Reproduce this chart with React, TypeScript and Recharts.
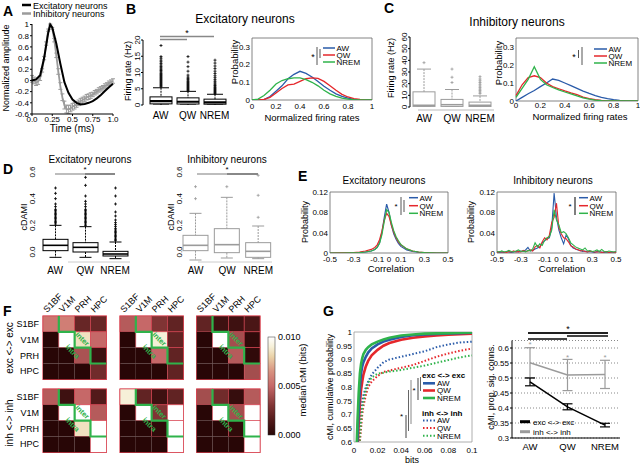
import React from "react";
import {
  LineChart,
  Line,
  XAxis,
  YAxis,
  BarChart,
  Bar,
  ScatterChart,
  Scatter,
  ErrorBar,
  ReferenceArea,
  CartesianGrid,
} from "recharts";

const W = 640;
const H = 464;
const FONT = '"Liberation Sans", Arial, Helvetica, sans-serif';
const BLUE = "#2a5ba9";
const RED = "#e5272b";
const GREEN = "#2fb34b";
const GRAY = "#9b9b9b";
const FRAME = "#666";
const CELL_RED = "#d8404e";

const states = ["AW", "QW", "NREM"];
const stateColors = [BLUE, RED, GREEN];
const areas = ["S1BF", "V1M", "PRH", "HPC"];

// A: mean spike waveforms
const aExcT = [0, 0.05, 0.1, 0.15, 0.2, 0.225, 0.25, 0.3, 0.35, 0.4, 0.45, 0.5, 0.55, 0.6, 0.65, 0.7, 0.75, 0.8, 0.85, 0.9, 0.95, 1];
const aExcV = [0, 0.02, 0.09, 0.4, 0.85, 1, 0.95, 0.66, 0.3, -0.03, -0.22, -0.34, -0.4, -0.43, -0.42, -0.4, -0.37, -0.32, -0.26, -0.19, -0.12, -0.06];
const aInhT = [0, 0.025, 0.05, 0.075, 0.1, 0.125, 0.15, 0.175, 0.2, 0.225, 0.25, 0.275, 0.3, 0.325, 0.35, 0.375, 0.4, 0.425, 0.45, 0.475, 0.5, 0.525, 0.55, 0.575, 0.6, 0.625, 0.65, 0.675, 0.7, 0.725, 0.75, 0.775, 0.8, 0.825, 0.85, 0.875, 0.9, 0.925, 0.95, 0.975, 1];
const aInhV = [0.03, 0, -0.04, -0.02, 0.04, 0.18, 0.4, 0.66, 0.9, 1, 0.93, 0.72, 0.45, 0.16, -0.1, -0.3, -0.44, -0.51, -0.52, -0.5, -0.47, -0.45, -0.43, -0.4, -0.37, -0.35, -0.33, -0.3, -0.29, -0.27, -0.25, -0.22, -0.2, -0.17, -0.15, -0.13, -0.1, -0.08, -0.05, -0.03, -0.01];
const aInhE = [0.06, 0.06, 0.05, 0.05, 0.04, 0.03, 0.03, 0.03, 0.02, 0.01, 0.02, 0.03, 0.04, 0.05, 0.06, 0.06, 0.07, 0.07, 0.07, 0.06, 0.06, 0.06, 0.05, 0.05, 0.05, 0.05, 0.05, 0.05, 0.05, 0.05, 0.04, 0.04, 0.04, 0.04, 0.04, 0.04, 0.04, 0.04, 0.04, 0.04, 0.04];
const aTicksX = [0, 0.25, 0.5, 0.75, 1];
const aTicksY = [-0.6, -0.4, -0.2, 0, 0.2, 0.4, 0.6, 0.8, 1];

// B, C: firing-rate boxes and normalized-rate distributions
const bQ1 = [0.35, 0.3, 0.25];
const bMed = [1.2, 1.0, 0.8];
const bQ3 = [2.5, 2.2, 1.8];
const bLo = [0, 0, 0];
const bHi = [5.3, 4.2, 3.3];
const bOutAW = [5.6, 5.9, 6.2, 6.5, 6.8, 7.1, 7.4, 7.7, 8.0, 8.3, 8.6, 8.9, 9.2, 9.5, 9.8, 10.2, 10.6, 11.0, 11.4, 11.8, 12.3, 12.8, 13.3, 13.8, 14.4, 14.9, 18.3];
const bOutQW = [4.4, 4.7, 5.0, 5.3, 5.6, 5.9, 6.2, 6.5, 6.8, 7.1, 7.4, 7.8, 8.2, 8.6, 9.2, 10.4, 11.8, 13.2, 14.9];
const bOutNREM = [3.5, 3.8, 4.1, 4.4, 4.7, 5.0, 5.3, 5.6, 6.0, 6.4, 6.8, 7.3, 7.8, 8.4, 9.0, 9.7, 10.4, 11.2, 12.0, 12.9, 13.8];

const cQ1 = [0.5, 0.5, 0.4];
const cMed = [1.5, 2, 1.5];
const cQ3 = [13, 6.5, 4.2];
const cLo = [0, 0, 0];
const cHi = [32.5, 15, 9.5];
const cOutAW = [38, 62];
const cOutQW = [21, 25.5, 32.5];
const cOutNREM = [11.5, 12.8, 14, 15.3, 16.6, 18, 19.5, 21, 22.5, 24, 26];

const distX = [0, 0.05, 0.1, 0.15, 0.2, 0.25, 0.3, 0.35, 0.4, 0.45, 0.5, 0.55, 0.6, 0.65, 0.7, 0.75, 0.8, 0.85, 0.9, 0.95, 1];
const bDistAW = [0, 0, 0.002, 0.02, 0.05, 0.08, 0.12, 0.145, 0.162, 0.15, 0.13, 0.105, 0.078, 0.055, 0.035, 0.02, 0.01, 0.004, 0.001, 0, 0];
const bDistQW = [0, 0, 0.003, 0.015, 0.04, 0.065, 0.085, 0.09, 0.105, 0.12, 0.125, 0.122, 0.105, 0.08, 0.055, 0.032, 0.017, 0.008, 0.003, 0.001, 0];
const bDistNREM = [0, 0.005, 0.025, 0.055, 0.09, 0.11, 0.12, 0.125, 0.125, 0.115, 0.1, 0.08, 0.055, 0.035, 0.02, 0.01, 0.005, 0.002, 0, 0, 0];
const cDistAW = [0, 0.02, 0.04, 0.058, 0.08, 0.1, 0.122, 0.115, 0.1, 0.085, 0.07, 0.055, 0.042, 0.03, 0.02, 0.013, 0.008, 0.004, 0.002, 0.001, 0];
const cDistQW = [0.03, 0.09, 0.13, 0.14, 0.13, 0.1, 0.08, 0.068, 0.056, 0.045, 0.035, 0.022, 0.013, 0.007, 0.003, 0.001, 0, 0, 0, 0, 0];
const cDistNREM = [0.02, 0.07, 0.12, 0.19, 0.12, 0.09, 0.075, 0.062, 0.05, 0.04, 0.028, 0.018, 0.01, 0.005, 0.002, 0.001, 0, 0, 0, 0, 0];

// D: cDAMI boxes
const dExcQ1 = [0.01, 0, -0.03];
const dExcMed = [0.05, 0.035, -0.015];
const dExcQ3 = [0.095, 0.07, 0.005];
const dExcLo = [-0.04, -0.04, -0.05];
const dExcHi = [0.2, 0.19, 0.075];
const dExcOutAW = [0.21, 0.22, 0.23, 0.24, 0.25, 0.26, 0.27, 0.28, 0.29, 0.3, 0.31, 0.32, 0.34, 0.36, 0.4, 0.44, 0.48];
const dExcOutQW = [0.2, 0.21, 0.22, 0.23, 0.24, 0.25, 0.26, 0.27, 0.28, 0.29, 0.3, 0.31, 0.32, 0.34, 0.36, 0.38, 0.42, 0.5, 0.56];
const dExcOutNREM = [0.085, 0.095, 0.105, 0.115, 0.125, 0.135, 0.145, 0.155, 0.165, 0.175, 0.19, 0.205, 0.22, 0.24, 0.27, 0.3, 0.36, 0.42, 0.48];
const dInhQ1 = [0.01, -0.005, -0.04];
const dInhMed = [0.05, 0.055, 0.005];
const dInhQ3 = [0.125, 0.175, 0.07];
const dInhLo = [-0.06, -0.045, -0.05];
const dInhHi = [0.29, 0.41, 0.195];
const dInhOutAW = [0.4, 0.49];
const dInhOutQW = [0.49];
const dInhOutNREM = [0.26, 0.425, 0.575];

// E: correlation distributions
const eExcX = [-0.5, -0.4, -0.3, -0.25, -0.2, -0.15, -0.12, -0.1, -0.08, -0.06, -0.04, -0.02, 0, 0.02, 0.04, 0.06, 0.08, 0.1, 0.15, 0.2, 0.25, 0.3, 0.4, 0.5];
const eExcAW = [0, 0, 0.0005, 0.001, 0.002, 0.004, 0.007, 0.011, 0.02, 0.04, 0.07, 0.096, 0.08, 0.055, 0.038, 0.027, 0.019, 0.013, 0.006, 0.003, 0.0015, 0.001, 0, 0];
const eExcQW = [0, 0.0003, 0.001, 0.002, 0.004, 0.007, 0.011, 0.016, 0.026, 0.043, 0.065, 0.078, 0.072, 0.055, 0.041, 0.03, 0.022, 0.016, 0.008, 0.004, 0.002, 0.001, 0, 0];
const eExcNREM = [0, 0, 0.0005, 0.001, 0.002, 0.004, 0.007, 0.011, 0.019, 0.036, 0.062, 0.085, 0.08, 0.06, 0.044, 0.032, 0.024, 0.017, 0.008, 0.004, 0.002, 0.001, 0, 0];
const eInhX = [-0.5, -0.48, -0.46, -0.44, -0.42, -0.4, -0.38, -0.36, -0.34, -0.32, -0.3, -0.28, -0.26, -0.24, -0.22, -0.2, -0.18, -0.16, -0.14, -0.12, -0.1, -0.08, -0.06, -0.04, -0.02, 0, 0.02, 0.04, 0.06, 0.08, 0.1, 0.12, 0.14, 0.16, 0.18, 0.2, 0.22, 0.24, 0.26, 0.28, 0.3, 0.32, 0.34, 0.36, 0.38, 0.4, 0.42, 0.44, 0.46, 0.48, 0.5];
const eInhAW = [0.002, 0.001, 0.002, 0.001, 0.003, 0.002, 0.001, 0.002, 0.003, 0.002, 0.004, 0.003, 0.006, 0.011, 0.004, 0.005, 0.008, 0.01, 0.012, 0.02, 0.024, 0.028, 0.03, 0.05, 0.118, 0.07, 0.045, 0.03, 0.018, 0.035, 0.028, 0.015, 0.01, 0.008, 0.006, 0.005, 0.003, 0.004, 0.002, 0.003, 0.002, 0.001, 0.003, 0.002, 0.002, 0.001, 0.002, 0.001, 0.002, 0.001, 0.002];
const eInhQW = [0.001, 0.003, 0.002, 0.002, 0.001, 0.003, 0.002, 0.004, 0.002, 0.003, 0.002, 0.005, 0.003, 0.004, 0.006, 0.004, 0.012, 0.015, 0.01, 0.022, 0.03, 0.026, 0.035, 0.06, 0.07, 0.098, 0.05, 0.038, 0.03, 0.028, 0.022, 0.014, 0.012, 0.008, 0.007, 0.004, 0.005, 0.003, 0.002, 0.004, 0.003, 0.002, 0.002, 0.003, 0.001, 0.002, 0.003, 0.001, 0.002, 0.002, 0.001];
const eInhNREM = [0.003, 0.002, 0.004, 0.002, 0.003, 0.005, 0.003, 0.002, 0.004, 0.006, 0.003, 0.004, 0.002, 0.005, 0.004, 0.008, 0.02, 0.012, 0.018, 0.015, 0.025, 0.03, 0.032, 0.045, 0.085, 0.065, 0.055, 0.04, 0.042, 0.038, 0.03, 0.02, 0.016, 0.012, 0.01, 0.008, 0.006, 0.01, 0.004, 0.005, 0.003, 0.004, 0.006, 0.003, 0.007, 0.003, 0.002, 0.004, 0.003, 0.002, 0.003];
const eTicksX = [-0.5, -0.3, -0.1, 0, 0.1, 0.3, 0.5];
const eTicksY = [0, 0.04, 0.08, 0.12];

// F: median cMI matrices (bits)
const excAW = [[0.0055, 0.0058, 0.0022, 0.0022], [0, 0.01, 0.0085, 0.005], [0, 0, 0.0042, 0.0008], [0, 0, 0, 0.0025]];
const excQW = [[0.0045, 0.005, 0.003, 0.002], [0, 0.01, 0.009, 0.002], [0, 0, 0.005, 0.002], [0, 0, 0, 0.002]];
const excNREM = [[0.002, 0.0008, 0.0008, 0.0012], [0, 0.01, 0.004, 0.0003], [0, 0, 0.0045, 0.0003], [0, 0, 0, 0.004]];
const inhAW = [[0.0045, 0.0008, 0.005, 0.0015], [0, 0.01, 0.01, 0.0045], [0, 0, 0.0085, 0.01], [0, 0, 0, 0.01]];
const inhQW = [[0.009, 0.002, 0.0008, 0.002], [0, 0.01, 0.003, 0.01], [0, 0, 0.0003, 0.01], [0, 0, 0, 0.01]];
const inhNREM = [[0.004, 0.0025, 0.0005, 0.0045], [0, 0.01, 0.004, 0.01], [0, 0, 0.0003, 0.01], [0, 0, 0, 0.01]];
const stair = [
  { c: 0.5, r: -0.5 }, { c: 0.5, r: 0.5 }, { c: 1.5, r: 0.5 }, { c: 1.5, r: 1.5 },
  { c: 2.5, r: 1.5 }, { c: 2.5, r: 2.5 }, { c: 3.5, r: 2.5 },
];
const CMAX = 0.01;

// G: cMI cumulative distributions and proportion of significant connections
const gX = [0.002, 0.003, 0.004, 0.005, 0.006, 0.007, 0.008, 0.01, 0.012, 0.015, 0.02, 0.025, 0.03, 0.04, 0.05, 0.06, 0.07, 0.08, 0.09, 0.1];
const gExcAW = [0.5, 0.62, 0.72, 0.8, 0.85, 0.875, 0.89, 0.91, 0.925, 0.94, 0.955, 0.965, 0.972, 0.982, 0.988, 0.991, 0.993, 0.995, 0.996, 0.997];
const gExcQW = [0.45, 0.57, 0.67, 0.74, 0.79, 0.82, 0.845, 0.875, 0.895, 0.915, 0.935, 0.95, 0.96, 0.972, 0.979, 0.984, 0.987, 0.99, 0.992, 0.994];
const gExcNREM = [0.55, 0.68, 0.78, 0.85, 0.885, 0.905, 0.92, 0.935, 0.945, 0.955, 0.965, 0.973, 0.979, 0.987, 0.991, 0.994, 0.995, 0.996, 0.997, 0.998];
const gInhAW = [0.4, 0.5, 0.6, 0.68, 0.72, 0.75, 0.77, 0.8, 0.82, 0.845, 0.87, 0.89, 0.9, 0.91, 0.92, 0.93, 0.945, 0.955, 0.962, 0.965];
const gInhQW = [0.35, 0.45, 0.55, 0.6, 0.65, 0.7, 0.73, 0.77, 0.8, 0.82, 0.84, 0.855, 0.86, 0.87, 0.88, 0.895, 0.91, 0.922, 0.932, 0.94];
const gInhNREM = [0.35, 0.45, 0.55, 0.62, 0.68, 0.72, 0.75, 0.79, 0.815, 0.835, 0.848, 0.852, 0.856, 0.862, 0.87, 0.878, 0.888, 0.898, 0.908, 0.915];
const gPropExc = [0.487, 0.404, 0.343];
const gPropExcErr = [0.013, 0.01, 0.006];
const gPropInh = [0.551, 0.51, 0.512];
const gPropInhErr = [0.05, 0.052, 0.047];
const gPropStar = [0.614, 0.571, 0.569];

// tables
const aExc = aExcT.map((t, i) => ({ t, v: aExcV[i] }));
const aInh = aInhT.map((t, i) => ({ t, v: aInhV[i], err: aInhE[i] }));
const table3 = (x: number[], a: number[], q: number[], n: number[]) =>
  x.map((v, i) => ({ x: v, AW: a[i], QW: q[i], NREM: n[i] }));
const boxTable = (lo: number[], q1: number[], med: number[], q3: number[], hi: number[], out: number[][]) =>
  states.map((name, i) => ({ name, range: [lo[i], hi[i]], q1: q1[i], med: med[i], q3: q3[i], out: out[i] }));
const bDist = table3(distX, bDistAW, bDistQW, bDistNREM);
const cDist = table3(distX, cDistAW, cDistQW, cDistNREM);
const eExc = table3(eExcX, eExcAW, eExcQW, eExcNREM);
const eInh = table3(eInhX, eInhAW, eInhQW, eInhNREM);
const bBox = boxTable(bLo, bQ1, bMed, bQ3, bHi, [bOutAW, bOutQW, bOutNREM]);
const cBox = boxTable(cLo, cQ1, cMed, cQ3, cHi, [cOutAW, cOutQW, cOutNREM]);
const dExcBox = boxTable(dExcLo, dExcQ1, dExcMed, dExcQ3, dExcHi, [dExcOutAW, dExcOutQW, dExcOutNREM]);
const dInhBox = boxTable(dInhLo, dInhQ1, dInhMed, dInhQ3, dInhHi, [dInhOutAW, dInhOutQW, dInhOutNREM]);
const gCdf = gX.map((x, i) => ({
  x, eAW: gExcAW[i], eQW: gExcQW[i], eNREM: gExcNREM[i], iAW: gInhAW[i], iQW: gInhQW[i], iNREM: gInhNREM[i],
}));
const gProp = states.map((name, i) => ({
  name, exc: gPropExc[i], excErr: gPropExcErr[i], inh: gPropInh[i], inhErr: gPropInhErr[i], star: gPropStar[i],
}));

// layout helpers: axes get 1px of room so they still render their ticks
type Rect = [number, number, number, number];
const mg = ([l, t, r, b]: Rect, ax = 1) => ({ left: l - ax, top: t, right: W - r, bottom: H - b - ax });
const layer: React.CSSProperties = { position: "absolute", left: 0, top: 0 };
const TICK = { fontSize: 8, fill: "#000" };
const GX = [43, 120, 196.7];
const GY = [316, 389];
const GRID = 63.3;
const CELL = GRID / 4;

const cmapStops: [number, number[]][] = [
  [0, [40, 6, 6]], [0.15, [82, 26, 26]], [0.3, [128, 52, 52]], [0.5, [198, 104, 104]],
  [0.65, [216, 146, 128]], [0.8, [234, 210, 168]], [0.9, [246, 240, 216]], [1, [255, 255, 255]],
];
function cmap(t: number) {
  const v = Math.max(0, Math.min(1, t));
  for (let i = 1; i < cmapStops.length; i++) {
    const [t1, c1] = cmapStops[i];
    const [t0, c0] = cmapStops[i - 1];
    if (v <= t1) {
      const f = (v - t0) / (t1 - t0);
      const c = c0.map((x, k) => Math.round(x + (c1[k] - x) * f));
      return `rgb(${c[0]},${c[1]},${c[2]})`;
    }
  }
  return "#fff";
}

function RotTick(p: any) {
  const { x, y, payload, dx = 0, fmt } = p;
  const px = x + dx;
  return (
    <text x={px} y={y} transform={`rotate(-90 ${px} ${y})`} textAnchor="middle" fontSize={8} fill="#000">
      {fmt ? fmt(payload.value) : payload.value}
    </text>
  );
}

function BoxShape(p: any) {
  const { x, y, width, height, payload, color, cap, medW } = p;
  const [lo, hi] = payload.range;
  const py = (v: number) => y + ((hi - v) / (hi - lo)) * height;
  const cx = x + width / 2;
  const y1 = py(payload.q1);
  const y3 = py(payload.q3);
  return (
    <g stroke={color} fill="none" strokeWidth={1}>
      <line x1={cx} x2={cx} y1={py(hi)} y2={y3} strokeDasharray="2 1" />
      <line x1={cx} x2={cx} y1={y1} y2={py(lo)} strokeDasharray="2 1" />
      <line x1={cx - cap / 2} x2={cx + cap / 2} y1={py(hi)} y2={py(hi)} />
      <line x1={cx - cap / 2} x2={cx + cap / 2} y1={py(lo)} y2={py(lo)} />
      <rect x={x} y={y3} width={width} height={Math.max(0.5, y1 - y3)} />
      <line x1={x} x2={x + width} y1={py(payload.med)} y2={py(payload.med)} strokeWidth={medW} />
      {payload.out.map((v: number, i: number) => (
        <path key={i} d={`M${cx - 1.5},${py(v)}h3M${cx},${py(v) - 1.5}v3`} strokeWidth={0.8} />
      ))}
    </g>
  );
}

function Boxes({ rect, data, yDomain, yTicks, yFmt, color, boxW, cap, medW, padL = 0, padR = 0, tickDx = 0, axis, catMargin, catSize = 10 }: any) {
  return (
    <div style={layer}>
      <BarChart width={W} height={H} margin={mg(rect)} data={data}>
        <XAxis dataKey="name" height={1} tickSize={0} tickMargin={catMargin} axisLine={false} tickLine={false}
          tick={{ fontSize: catSize, fill: "#000" }} interval={0} padding={{ left: padL, right: padR }} />
        <YAxis type="number" domain={yDomain} ticks={yTicks} interval={0} width={1}
          tickSize={axis ? 2 : 0} tickMargin={1} axisLine={axis ? { stroke: "#000" } : false}
          tickLine={axis ? { stroke: "#000" } : false} allowDataOverflow
          tick={(p: any) => <RotTick {...p} dx={tickDx} fmt={yFmt} />} />
        <Bar dataKey="range" barSize={boxW} isAnimationActive={false}
          shape={(p: any) => <BoxShape {...p} color={color} cap={cap} medW={medW} />} />
      </BarChart>
    </div>
  );
}

function Dist({ rect, data, xDomain, xTicks, yDomain, yTicks, xFmt, sw = 1.3, tm = 3 }: any) {
  return (
    <div style={layer}>
      <LineChart width={W} height={H} margin={mg(rect)} data={data}>
        <XAxis type="number" dataKey="x" domain={xDomain} ticks={xTicks} interval={0} height={1} tickSize={0}
          tickMargin={tm} tick={TICK} tickFormatter={xFmt} axisLine={false} tickLine={false} />
        <YAxis type="number" domain={yDomain} ticks={yTicks} interval={0} width={1} tickSize={0}
          tickMargin={2} tick={TICK} axisLine={false} tickLine={false} allowDataOverflow />
        <ReferenceArea x1={xDomain[0]} x2={xDomain[1]} y1={yDomain[0]} y2={yDomain[1]} fill="none"
          stroke={FRAME} strokeWidth={0.8} ifOverflow="visible" />
        {states.map((s, i) => (
          <Line key={s} dataKey={s} stroke={stateColors[i]} strokeWidth={sw} dot={false} activeDot={false}
            isAnimationActive={false} />
        ))}
      </LineChart>
    </div>
  );
}

function HeatCell(p: any) {
  const { cx, cy, payload } = p;
  return (
    <rect x={cx - CELL / 2} y={cy - CELL / 2} width={CELL} height={CELL} fill={cmap(payload.v / CMAX)}
      stroke={payload.c >= payload.r ? CELL_RED : "none"} strokeWidth={0.6} />
  );
}

function Heat({ x0, y0, grid }: any) {
  const cells = grid.flatMap((row: number[], r: number) => row.map((v, c) => ({ r, c, v })));
  return (
    <div style={layer}>
      <ScatterChart width={W} height={H} margin={mg([x0, y0, x0 + GRID, y0 + GRID], 0)}>
        <XAxis type="number" dataKey="c" domain={[-0.5, 3.5]} hide />
        <YAxis type="number" dataKey="r" domain={[-0.5, 3.5]} reversed hide />
        <Scatter data={cells} isAnimationActive={false} shape={(p: any) => <HeatCell {...p} />} />
        <ReferenceArea x1={-0.5} x2={3.5} y1={-0.5} y2={3.5} fill="none" stroke={CELL_RED} strokeWidth={1.2} />
        <Scatter data={stair} isAnimationActive={false} line={{ stroke: GREEN, strokeWidth: 2.2 }} lineType="joint"
          shape={() => <g />} />
      </ScatterChart>
    </div>
  );
}

function Txt({ x, y, s = 9, a = "start", w = "normal", r = 0, c = "#000", dy, children }: any) {
  return (
    <text x={x} y={y} dy={dy} fontSize={s} textAnchor={a} fontWeight={w} fill={c}
      transform={r ? `rotate(${r} ${x} ${y})` : undefined}>{children}</text>
  );
}
function Seg({ x1, y1, x2, y2, c = "#000", w = 1, d }: any) {
  return <line x1={x1} y1={y1} x2={x2} y2={y2} stroke={c} strokeWidth={w} strokeDasharray={d} />;
}
function StateLegend({ x, ys, len, s = 8, w = 1.5, d }: any) {
  return (
    <g>
      {states.map((st, i) => (
        <g key={st}>
          <Seg x1={x} x2={x + len} y1={ys[i]} y2={ys[i]} c={stateColors[i]} w={w} d={d} />
          <Txt x={x + len + 1.5} y={ys[i] + 2.8} s={s}>{st}</Txt>
        </g>
      ))}
    </g>
  );
}

const fmt1 = (v: number) => v.toFixed(1);
const fmtA = (v: number) => (v === 0 ? "0.0" : v === 1 ? "1.0" : String(v));
const gExcYs = [383.3, 390.5, 398];
const gInhYs = [420.5, 428, 435.7];

export default function App() {
  return (
    <div style={{ position: "fixed", left: 0, top: 0, width: W, height: H, background: "#fff", fontFamily: FONT, overflow: "hidden" }}>
      {/* A */}
      <div style={layer}>
        <LineChart width={W} height={H} margin={mg([32, 24, 113, 114])}>
          <XAxis type="number" dataKey="t" domain={[0, 1]} ticks={aTicksX} interval={0} height={1} tickSize={2}
            tickMargin={0} tick={TICK} tickFormatter={fmtA} axisLine={{ stroke: "#000" }} tickLine={{ stroke: "#000" }} />
          <YAxis type="number" domain={[-0.6, 1]} ticks={aTicksY} interval={0} width={1} tickSize={2} tickMargin={1}
            tick={TICK} axisLine={{ stroke: "#000" }} tickLine={{ stroke: "#000" }} />
          <Line data={aInh} dataKey="v" stroke={GRAY} strokeWidth={1.8} dot={false} activeDot={false} isAnimationActive={false}>
            <ErrorBar dataKey="err" width={2} stroke={GRAY} strokeWidth={1} direction="y" />
          </Line>
          <Line data={aExc} dataKey="v" stroke="#000" strokeWidth={2} dot={false} activeDot={false} isAnimationActive={false} />
        </LineChart>
      </div>

      {/* B, C */}
      <Boxes rect={[143, 40, 228, 105]} data={bBox} yDomain={[0, 20]} yTicks={[0, 5, 10, 15, 20]} color="#000"
        boxW={22} cap={16} medW={2.2} padL={4} axis catMargin={6.5} />
      <Dist rect={[252, 38, 372, 100]} data={bDist} xDomain={[0, 1]} xTicks={[0, 0.2, 0.4, 0.6, 0.8, 1]}
        yDomain={[0, 0.35]} yTicks={[0, 0.1, 0.2, 0.3]} tm={3.2} />
      <Boxes rect={[410, 37, 494, 107]} data={cBox} yDomain={[0, 60]} yTicks={[0, 10, 20, 30, 40, 50, 60]} color={GRAY}
        boxW={22} cap={14} medW={1.5} axis catMargin={7.5} />
      <Dist rect={[516, 38, 638, 101]} data={cDist} xDomain={[0, 1]} xTicks={[0, 0.2, 0.4, 0.6, 0.8, 1]}
        yDomain={[0, 0.35]} yTicks={[0, 0.1, 0.2, 0.3]} tm={1.5} />

      {/* D */}
      <Boxes rect={[40, 172, 130, 264]} data={dExcBox} yDomain={[-0.09, 0.6]} yTicks={[0, 0.2, 0.4, 0.6]} yFmt={fmt1}
        color="#000" boxW={25} cap={12} medW={1.6} axis={false} tickDx={-4} catMargin={2.5} />
      <Boxes rect={[180, 172, 274, 264]} data={dInhBox} yDomain={[-0.09, 0.6]} yTicks={[0, 0.2, 0.4, 0.6]} yFmt={fmt1}
        color={GRAY} boxW={25} cap={12} medW={1.6} axis={false} tickDx={3} catMargin={2.5} />

      {/* E */}
      <Dist rect={[330, 192, 448, 253]} data={eExc} xDomain={[-0.5, 0.5]} xTicks={eTicksX} yDomain={[0, 0.12]}
        yTicks={eTicksY} tm={3.4} sw={1.2} />
      <Dist rect={[497, 192, 616, 253]} data={eInh} xDomain={[-0.5, 0.5]} xTicks={eTicksX} yDomain={[0, 0.12]}
        yTicks={eTicksY} tm={3.4} sw={1.1} />

      {/* F */}
      <Heat x0={GX[0]} y0={GY[0]} grid={excAW} />
      <Heat x0={GX[1]} y0={GY[0]} grid={excQW} />
      <Heat x0={GX[2]} y0={GY[0]} grid={excNREM} />
      <Heat x0={GX[0]} y0={GY[1]} grid={inhAW} />
      <Heat x0={GX[1]} y0={GY[1]} grid={inhQW} />
      <Heat x0={GX[2]} y0={GY[1]} grid={inhNREM} />

      {/* G left */}
      <div style={layer}>
        <LineChart width={W} height={H} margin={mg([354, 332, 472, 442])} data={gCdf}>
          <XAxis type="number" dataKey="x" domain={[0, 0.1]} ticks={[0, 0.02, 0.04, 0.06, 0.08, 0.1]} interval={0}
            height={1} tickSize={0} tickMargin={5.2} tick={TICK} axisLine={false} tickLine={false} />
          <YAxis type="number" domain={[0.6, 1]} ticks={[0.6, 0.65, 0.7, 0.75, 0.8, 0.85, 0.9, 0.95, 1]} interval={0}
            width={1} tickSize={0} tickMargin={2} tick={TICK} axisLine={false} tickLine={false} allowDataOverflow />
          <ReferenceArea x1={0} x2={0.1} y1={0.6} y2={1} fill="none" stroke="#999" strokeWidth={0.8} ifOverflow="visible" />
          {["iAW", "iQW", "iNREM"].map((k, i) => (
            <Line key={k} dataKey={k} stroke={stateColors[i]} strokeWidth={2} strokeDasharray="1.5 2" dot={false}
              activeDot={false} isAnimationActive={false} />
          ))}
          {["eQW", "eAW", "eNREM"].map((k) => (
            <Line key={k} dataKey={k} stroke={stateColors[states.indexOf(k.slice(1))]} strokeWidth={2.6} dot={false}
              activeDot={false} isAnimationActive={false} />
          ))}
        </LineChart>
      </div>

      {/* G right */}
      <div style={layer}>
        <LineChart width={W} height={H} margin={mg([512, 340.5, 620, 438])} data={gProp}>
          <CartesianGrid vertical={false} stroke="#888" strokeDasharray="1 2" />
          <XAxis dataKey="name" height={1} tickSize={0} tickMargin={5.5} interval={0} padding={{ left: 18, right: 15 }}
            tick={{ fontSize: 9.5, fill: "#000" }} axisLine={{ stroke: "#000" }} tickLine={false} />
          <YAxis type="number" domain={[0.3, 0.625]} ticks={[0.3, 0.35, 0.4, 0.45, 0.5, 0.55, 0.6]} interval={0}
            width={1} tickSize={2} tickMargin={1} tick={TICK} axisLine={{ stroke: "#000" }} tickLine={{ stroke: "#000" }} />
          <Line dataKey="inh" stroke={GRAY} strokeWidth={1.5} dot={false} activeDot={false} isAnimationActive={false}>
            <ErrorBar dataKey="inhErr" width={5} stroke={GRAY} strokeWidth={1.2} direction="y" />
          </Line>
          <Line dataKey="exc" stroke="#000" strokeWidth={1.5} dot={false} activeDot={false} isAnimationActive={false}>
            <ErrorBar dataKey="excErr" width={5} stroke="#000" strokeWidth={1.2} direction="y" />
          </Line>
          <Line dataKey="star" stroke="none" activeDot={false} isAnimationActive={false}
            dot={(p: any) => (
              <text key={p.index} x={p.cx} y={p.cy + 3} fontSize={8} fill={GRAY} textAnchor="middle">*</text>
            )} />
        </LineChart>
      </div>

      {/* text, legends and annotations */}
      <svg width={W} height={H} style={layer}>
        <defs>
          <linearGradient id="cbar" x1="0" y1="1" x2="0" y2="0">
            {cmapStops.map(([t]) => <stop key={t} offset={t} stopColor={cmap(t)} />)}
          </linearGradient>
        </defs>
        {[["A", 3, 16], ["B", 126, 14], ["C", 384, 13], ["D", 3, 174], ["E", 298, 181], ["F", 3, 316], ["G", 323, 316]].map(
          ([l, x, y]) => <Txt key={l as string} x={x} y={y} s={14} w="bold">{l}</Txt>,
        )}

        {/* A */}
        <Seg x1={22} x2={31} y1={5} y2={5} w={2.5} />
        <Txt x={33} y={8.5}>Excitatory neurons</Txt>
        <Seg x1={22} x2={31} y1={13.5} y2={13.5} w={2.5} c={GRAY} />
        <Txt x={33} y={17}>Inhibitory neurons</Txt>
        <Txt x={9} y={68} r={-90} a="middle">Normalized amplitude</Txt>
        <Txt x={72} y={132} s={10} a="middle">Time (ms)</Txt>

        {/* B */}
        <Txt x={245} y={23} s={12} a="middle">Excitatory neurons</Txt>
        <Txt x={131} y={71} r={-90} a="middle">Firing rate (Hz)</Txt>
        <Seg x1={160} x2={214} y1={36.5} y2={36.5} c="#888" w={1.5} />
        <Seg x1={160} x2={187} y1={39.5} y2={39.5} c="#888" w={1.5} />
        <Txt x={187} y={36} s={9} a="middle">*</Txt>
        <Txt x={238} y={62} s={9.5} r={-90} a="middle">Probability</Txt>
        <Txt x={312} y={121} s={9.5} a="middle">Normalized firing rates</Txt>
        <StateLegend x={323} ys={[48, 55, 62]} len={12} />
        <Seg x1={317} x2={317} y1={47} y2={65} c="#555" />
        <Seg x1={320} x2={320} y1={49} y2={58} c="#555" />
        <Txt x={313} y={60} s={9} a="middle">*</Txt>

        {/* C */}
        <Txt x={517} y={26} s={12} a="middle">Inhibitory neurons</Txt>
        <Txt x={394} y={68} r={-90} a="middle">Firing rate (Hz)</Txt>
        <Seg x1={418} x2={494} y1={110} y2={110} c="#bbb" />
        <Txt x={502} y={63} s={9.5} r={-90} a="middle">Probability</Txt>
        <Txt x={580} y={120} s={9.5} a="middle">Normalized firing rates</Txt>
        <StateLegend x={594} ys={[49, 56, 63]} len={13} />
        <Seg x1={582} x2={582} y1={47} y2={65} c="#555" />
        <Seg x1={578.5} x2={578.5} y1={50} y2={58} c="#555" />
        <Txt x={574} y={60} s={9} a="middle">*</Txt>

        {/* D */}
        <Txt x={90} y={163} s={10} a="middle">Excitatory neurons</Txt>
        <Txt x={227} y={163} s={10} a="middle">Inhibitory neurons</Txt>
        <Txt x={27} y={217} r={-90} a="middle">cDAMI</Txt>
        <Txt x={174} y={217} r={-90} a="middle">cDAMI</Txt>
        <Seg x1={55} x2={85} y1={174} y2={174} c="#999" w={1.3} />
        <Seg x1={85} x2={115} y1={174} y2={174} c="#888" w={2} />
        <Txt x={85} y={172} s={8} a="middle">*</Txt>
        <Seg x1={197} x2={227} y1={174} y2={174} c="#999" w={1.3} />
        <Seg x1={227} x2={258} y1={174} y2={174} c="#888" w={2} />
        <Txt x={227} y={172} s={8} a="middle">*</Txt>
        <Seg x1={68} x2={130} y1={262} y2={262} c="#ccc" />
        <Seg x1={198} x2={272} y1={262} y2={262} c="#ccc" />

        {/* E */}
        <Txt x={384} y={184} s={10} a="middle">Excitatory neurons</Txt>
        <Txt x={553} y={184} s={10} a="middle">Inhibitory neurons</Txt>
        <Txt x={308} y={222} r={-90} a="middle">Probability</Txt>
        <Txt x={474} y={222} r={-90} a="middle">Probability</Txt>
        <Txt x={391} y={272} s={9.5} a="middle">Correlation</Txt>
        <Txt x={562} y={272} s={9.5} a="middle">Correlation</Txt>
        <StateLegend x={409} ys={[197.7, 205.7, 213.3]} len={9} />
        <Seg x1={401} x2={401} y1={197} y2={215} c="#555" />
        <Seg x1={404} x2={404} y1={200} y2={212} c="#555" />
        <Txt x={396} y={209} s={8} a="middle">*</Txt>
        <StateLegend x={579} ys={[197.7, 205.7, 213.3]} len={9} />
        <Seg x1={575} x2={575} y1={197} y2={215} c="#555" w={1.5} />
        <Txt x={570} y={209} s={8} a="middle">*</Txt>

        {/* F */}
        <Txt x={13} y={348} s={10} r={-90} a="middle">{"exc <-> exc"}</Txt>
        <Txt x={13} y={423} s={10} r={-90} a="middle">{"inh <-> inh"}</Txt>
        {GY.map((gy) =>
          areas.map((a, r) => (
            <Txt key={`${gy}${a}`} x={39} y={gy + (r + 0.5) * CELL + 3} a="end">{a}</Txt>
          )),
        )}
        {GX.map((gx) =>
          areas.map((a, c) => (
            <Txt key={`${gx}${a}`} x={gx + (c + 0.5) * CELL - 4} y={313} r={-45}>{a}</Txt>
          )),
        )}
        {GX.map((gx) =>
          GY.map((gy) => (
            <g key={`${gx}-${gy}`}>
              <Txt x={gx + 39.5} y={gy + 23} s={7.5} w="bold" c={GREEN} a="middle" r={45} dy="0.35em">inter</Txt>
              <Txt x={gx + 29.5} y={gy + 35.5} s={7.5} w="bold" c={GREEN} a="middle" r={45} dy="0.35em">intra</Txt>
            </g>
          )),
        )}
        <rect x={268} y={337} width={7} height={98} fill="url(#cbar)" stroke="#333" strokeWidth={0.5} />
        <Txt x={278} y={340}>0.010</Txt>
        <Txt x={278} y={389}>0.005</Txt>
        <Txt x={278} y={438}>0.000</Txt>
        <Txt x={306} y={380} s={9.5} r={-90} a="middle">median cMI (bits)</Txt>

        {/* G left */}
        <Txt x={333} y={387} r={-90} a="middle">cMI, cumulative probability</Txt>
        <Txt x={412} y={463} a="middle">bits</Txt>
        <Txt x={422} y={378} s={8} w="bold">{"exc <-> exc"}</Txt>
        {states.map((s, i) => (
          <g key={`ge${s}`}>
            <Seg x1={423} x2={435} y1={gExcYs[i]} y2={gExcYs[i]} c={stateColors[i]} w={2.6} />
            <Txt x={437} y={gExcYs[i] + 2.8} s={8}>{s}</Txt>
          </g>
        ))}
        <Txt x={422} y={415.5} s={8} w="bold">{"inh <-> inh"}</Txt>
        {states.map((s, i) => (
          <g key={`gi${s}`}>
            <Seg x1={423} x2={435} y1={gInhYs[i]} y2={gInhYs[i]} c={stateColors[i]} w={2} d="1.5 2" />
            <Txt x={437} y={gInhYs[i] + 2.8} s={8}>{s}</Txt>
          </g>
        ))}
        <Seg x1={406} x2={406} y1={415} y2={438} c="#444" />
        <Seg x1={408.5} x2={408.5} y1={390} y2={431} c="#666" />
        <Seg x1={411} x2={411} y1={380} y2={424} c="#888" />
        <Txt x={401.5} y={419} s={8} a="middle">*</Txt>
        <Seg x1={418} x2={418} y1={378} y2={400} c="#444" />
        <Seg x1={420.5} x2={420.5} y1={377} y2={391} c="#666" />
        <Txt x={414} y={393} s={8} a="middle">*</Txt>

        {/* G right */}
        <Txt x={494} y={387} r={-90} a="middle">cMI, prop. sig. conns.</Txt>
        <Seg x1={528} x2={608} y1={333} y2={333} c="#222" w={2} />
        <Seg x1={528} x2={567} y1={339} y2={339} c="#444" w={2} />
        <Seg x1={567} x2={608} y1={336} y2={336} c="#444" w={2} />
        <Txt x={568} y={332} s={9} a="middle">*</Txt>
        <Seg x1={520} x2={530} y1={421.7} y2={421.7} w={3} />
        <Txt x={533} y={425} s={8}>{"exc <-> exc"}</Txt>
        <Seg x1={520} x2={530} y1={431.7} y2={431.7} w={3} c={GRAY} />
        <Txt x={533} y={435} s={8}>{"inh <-> inh"}</Txt>
      </svg>
    </div>
  );
}
